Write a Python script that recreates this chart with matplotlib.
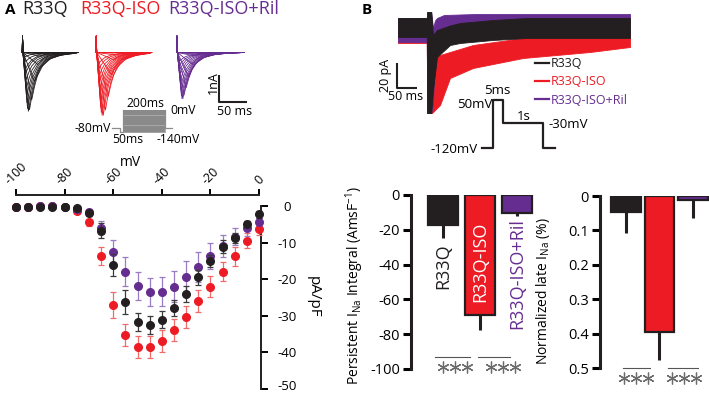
import numpy as np
import matplotlib
matplotlib.use("Agg")
import matplotlib.pyplot as plt
from matplotlib.lines import Line2D
from matplotlib.transforms import ScaledTranslation

plt.rcParams["font.family"] = ["Open Sans", "DejaVu Sans"]
plt.rcParams["axes.unicode_minus"] = False
plt.rcParams["mathtext.fontset"] = "custom"
plt.rcParams["mathtext.rm"] = "Open Sans"
plt.rcParams["mathtext.it"] = "Open Sans:italic"

W, H = 709, 394

BLACK = "#231f20"
RED = "#ed1c24"
PURPLE = "#662d91"
GROUPS = ["R33Q", "R33Q-ISO", "R33Q-ISO+Ril"]
COLORS = [BLACK, RED, PURPLE]

# ── Datos I-V (pA/pF, media y SEM) ─────────────────────────────────────────
VOLTS = list(range(-100, 5, 5))
IV_R33Q = [-0.2, -0.4, -0.2, -0.2, -0.2, -0.5, -2.0, -6.7, -16.1, -26.2, -31.7,
           -32.6, -31.1, -27.9, -24.0, -19.5, -15.0, -11.1, -8.8, -5.0, -2.3]
IV_R33Q_SEM = [0.3, 0.3, 0.3, 0.3, 0.3, 0.4, 0.8, 2.1, 3.0, 3.2, 2.5,
               2.5, 2.3, 2.1, 2.2, 2.0, 1.7, 1.8, 1.4, 0.8, 0.9]
IV_ISO = [-0.2, -0.2, 0.0, 0.0, -0.2, -1.4, -4.5, -13.6, -27.0, -35.3, -38.6,
          -38.6, -36.8, -33.8, -30.2, -25.9, -22.0, -17.9, -13.8, -9.5, -6.4]
IV_ISO_SEM = [0.3, 0.3, 0.3, 0.3, 0.3, 0.5, 1.0, 2.5, 3.5, 3.0, 3.0,
              3.0, 3.0, 3.0, 3.0, 3.0, 2.8, 2.6, 2.5, 2.1, 1.4]
IV_RIL = [-0.2, -0.2, -0.1, -0.1, -0.2, -0.8, -1.7, -5.9, -12.5, -17.9, -21.8,
          -23.5, -23.4, -22.0, -19.3, -16.7, -13.6, -10.9, -8.4, -6.1, -4.3]
IV_RIL_SEM = [0.3, 0.3, 0.3, 0.3, 0.3, 0.4, 0.8, 1.8, 3.2, 3.9, 3.8,
              3.9, 3.9, 4.2, 4.2, 4.1, 3.5, 3.0, 2.3, 2.0, 1.0]

# ── Trazos de corriente (panel A) ──────────────────────────────────────────
CELL_NF = [0.066, 0.0596, 0.072]          # escala pA/pF -> nA de cada celda
TIME_TO_PEAK = [30, 30, 30, 30, 30, 32, 32, 28, 22, 17, 13,
                11, 9.5, 8.5, 8, 7.5, 7, 6.5, 6, 6, 5.5]
SPIKE_T = [0.4, 1.2]
SPIKE_NA = 0.6
DECAY_T = [5, 10, 20, 35, 55, 80]
DECAY_FRAC = [0.72, 0.5, 0.27, 0.12, 0.05, 0.015]
SWEEP_MS = [100, 100, 121]

# ── Corriente persistente (panel B): envolventes leídas, pA ────────────────
PB_T_R33Q = [-75, -3, -2, 8, 12.5, 22.5, 55, 80, 162, 247, 505]
PB_UP_R33Q = [8, 8, 12.8, 12.8, -5.6, -1.6, 2, 4, 6.4, 8, 8]
PB_LO_R33Q = [-7.2, -7.2, -68, -68, -49.6, -23.2, -13.6, -12, -9.6, -8, -8]
PB_T_ISO = [-75, -3, -2, 8, 10, 30, 55, 112.5, 237.5, 405, 505]
PB_UP_ISO = [0, 0, 8, 8, -25.6, -21.6, -19.2, -13.6, -8, -4, -1.6]
PB_LO_ISO = [-12, -12, -68, -68, -68, -61.6, -40, -32, -24, -19.2, -15.2]
PB_T_RIL = [-75, -3, -2, 8, 12.5, 17.5, 22.5, 40, 120, 505]
PB_UP_RIL = [8, 8, 12.8, 12.8, 0, 6, 8, 10.4, 11.2, 11.2]
PB_LO_RIL = [-11.2, -11.2, -68, -68, -60, -20, -5.6, -4, -3.2, -3.2]

# ── Barras ─────────────────────────────────────────────────────────────────
PERSIST = [-17.2, -69.0, -10.5]
PERSIST_ERR = [7.6, 8.6, 1.4]
LATE = [0.047, 0.395, 0.012]
LATE_ERR = [0.061, 0.082, 0.052]

# ── Protocolos ─────────────────────────────────────────────────────────────
PROTO_A_HOLD = -80
PROTO_A_PRE = -100
PROTO_A_DUR = [40, 16, 200, 32]
PROTO_B_LEVELS = [-120, 50, -30, -120]
PROTO_B_DUR = [11, 10, 40, 12]

fig = plt.figure(figsize=(W / 100, H / 100), dpi=100)


def px_axes(x0, y0, x1, y1):
    return fig.add_axes([x0 / W, 1 - y1 / H, (x1 - x0) / W, (y1 - y0) / H])


# ── Panel A: encabezado ────────────────────────────────────────────────────
fig.text(5 / W, 1 - 10 / H, "A", fontsize=11, fontweight="bold", va="center")
for name, col, xp in zip(GROUPS, COLORS, [22, 80, 168]):
    fig.text(xp / W, 1 - 9 / H, name, color=col, fontsize=13, va="center")

# ── Panel A: familias de trazos ────────────────────────────────────────────
axt = px_axes(15, 28, 255, 125)
axt.set_xlim(-13.1, 418.5)
axt.set_ylim(-2.656, 0.897)
axt.axis("off")
for iv, cm, col, off, dur in zip([IV_R33Q, IV_ISO, IV_RIL], CELL_NF, COLORS,
                                 [0, 132.6, 277.7], SWEEP_MS):
    for amp, ttp in zip(iv, TIME_TO_PEAK):
        peak = amp * cm
        tt = [0, SPIKE_T[0], SPIKE_T[1], ttp]
        yy = [0, SPIKE_NA, 0, peak]
        for dt, fr in zip(DECAY_T, DECAY_FRAC):
            if ttp + dt < dur:
                tt.append(ttp + dt)
                yy.append(peak * fr)
        tt.append(dur)
        yy.append(0)
        axt.plot(np.array(tt) + off, yy, color=col, lw=0.6)
axt.plot([353.8, 353.8, 403.8], [-0.813, -1.813, -1.813], color=BLACK, lw=1.5,
         solid_capstyle="butt")
axt.text(343, -1.12, "1nA", rotation=90, ha="center", va="center", fontsize=9)
axt.text(381, -2.15, "50 ms", ha="center", va="center", fontsize=9)

# ── Panel A: protocolo ─────────────────────────────────────────────────────
axp = px_axes(111.7, 110, 171.7, 132.3)
axp.set_xlim(0, sum(PROTO_A_DUR))
axp.set_ylim(-100, 0)
axp.axis("off")
t1, t2, t3, t4 = np.cumsum(PROTO_A_DUR)
axp.fill_between([t2, t3], -100, 0, color="#a8a8a8", lw=0)
for v in VOLTS:
    axp.plot([t2, t3], [v, v], color="#7d7d7d", lw=0.5, clip_on=False)
axp.plot([0, t1, t1, t2, t2], [PROTO_A_HOLD, PROTO_A_HOLD, PROTO_A_PRE, PROTO_A_PRE, 0],
         color="#8c8c8c", lw=0.9, clip_on=False)
axp.plot([t3, t3, t4], [0, PROTO_A_HOLD, PROTO_A_HOLD], color="#8c8c8c", lw=0.9,
         clip_on=False)
fig.text(111 / W, 1 - 128 / H, "-80mV", ha="right", va="center", fontsize=8.7)
fig.text(112 / W, 1 - 139.5 / H, "50ms", ha="left", va="center", fontsize=8.7)
fig.text(145 / W, 1 - 103.5 / H, "200ms", ha="center", va="center", fontsize=8.7)
fig.text(170 / W, 1 - 110.5 / H, "0mV", ha="left", va="center", fontsize=8.7)
fig.text(178 / W, 1 - 139.5 / H, "-140mV", ha="center", va="center", fontsize=8.7)

# ── Panel A: curva I-V ─────────────────────────────────────────────────────
ax = px_axes(13.6, 195, 260.5, 389)
ax.set_xlim(-101, 0.6)
ax.set_ylim(-50, 3)
for mean, sem, col, ecol, z in [(IV_ISO, IV_ISO_SEM, RED, "#f26b6b", 3),
                                (IV_RIL, IV_RIL_SEM, PURPLE, "#9a7cc4", 4),
                                (IV_R33Q, IV_R33Q_SEM, BLACK, "#3a3a3a", 5)]:
    cont = ax.errorbar(VOLTS, mean, yerr=sem, fmt="o", color=col, ecolor=ecol,
                       elinewidth=0.9, capsize=2.5, capthick=0.9, ms=5.5,
                       mec=col, zorder=z)
    for art in cont.get_children():
        art.set_clip_on(False)
for s in ["left", "bottom"]:
    ax.spines[s].set_visible(False)
ax.spines["top"].set_bounds(-100, 0)
ax.spines["right"].set_bounds(-50, 0)
for s in ["top", "right"]:
    ax.spines[s].set_linewidth(1.4)
    ax.spines[s].set_color(BLACK)
ax.xaxis.tick_top()
ax.yaxis.tick_right()
ax.set_xticks(range(-100, 1, 20), [str(v) for v in range(-100, 1, 20)],
              rotation=45, fontsize=9)
ax.set_yticks(range(-50, 1, 10), [str(v) for v in range(-50, 1, 10)], fontsize=9.5)
ax.tick_params(axis="x", length=4.5, width=1.4, pad=1.5)
ax.tick_params(axis="y", length=5, width=1.4, pad=14)
ylabs = ax.get_yticklabels()
for lab in ylabs:
    lab.set_ha("center")
# el "-50" queda pegado al borde inferior: subirlo un poco
ylabs[0].set_transform(ylabs[0].get_transform()
                       + ScaledTranslation(0, 0.04, fig.dpi_scale_trans))
ax.text(0.475, 1.17, "mV", transform=ax.transAxes, ha="center", va="center",
        fontsize=10)
ax.text(1.213, 0.474, "pA/pF", transform=ax.transAxes, rotation=-90,
        ha="center", va="center", fontsize=11)

# ── Panel B: encabezado y trazos ───────────────────────────────────────────
fig.text(362 / W, 1 - 10 / H, "B", fontsize=11, fontweight="bold", va="center")
axb = px_axes(390, 5, 635, 120)
axb.set_xlim(-95, 517.5)
axb.set_ylim(-73.6, 18.4)
axb.axis("off")
for t, up, lo, col in [(PB_T_ISO, PB_UP_ISO, PB_LO_ISO, RED),
                       (PB_T_RIL, PB_UP_RIL, PB_LO_RIL, PURPLE),
                       (PB_T_R33Q, PB_UP_R33Q, PB_LO_R33Q, BLACK)]:
    axb.fill_between(t, lo, up, color=col, lw=0.6, edgecolor=col)
axb.plot([-77.5, -77.5, -27.5], [-28, -48, -48], color=BLACK, lw=1.5,
         solid_capstyle="butt")
axb.text(-107.5, -38, "20 pA", rotation=90, ha="center", va="center",
         fontsize=9, clip_on=False)
axb.text(-55, -55.2, "50 ms", ha="center", va="center", fontsize=9,
         clip_on=False)
handles = [Line2D([], [], color=c, lw=1.6) for c in COLORS]
fig.legend(handles, GROUPS, loc="upper left", bbox_to_anchor=(535 / W, 1 - 57 / H),
           frameon=False, fontsize=9, handlelength=1.1, handletextpad=0.15,
           labelspacing=0.42, borderaxespad=0, borderpad=0,
           labelcolor=COLORS)

# ── Panel B: protocolo ─────────────────────────────────────────────────────
axq = px_axes(482, 100, 555, 148)
axq.set_xlim(0, sum(PROTO_B_DUR))
axq.set_ylim(-120, 50)
axq.axis("off")
edges = np.concatenate([[0], np.cumsum(PROTO_B_DUR)])
qt, qv = [], []
for i, lev in enumerate(PROTO_B_LEVELS):
    qt += [edges[i], edges[i + 1]]
    qv += [lev, lev]
axq.plot(qt, qv, color=BLACK, lw=1.6, clip_on=False)
fig.text(497 / W, 1 - 90 / H, "5ms", ha="center", va="center", fontsize=9.5)
fig.text(492 / W, 1 - 104 / H, "50mV", ha="right", va="center", fontsize=9.5)
fig.text(524 / W, 1 - 117 / H, "1s", ha="center", va="center", fontsize=9.5)
fig.text(548 / W, 1 - 124 / H, "-30mV", ha="left", va="center", fontsize=9.5)
fig.text(478 / W, 1 - 149 / H, "-120mV", ha="right", va="center", fontsize=9.5)


# ── Panel B: barras ────────────────────────────────────────────────────────
def bar_axes(ax, vals, errs, width, ylo, yhi, ticks, ticklabels):
    x = np.arange(len(vals))
    ax.bar(x, vals, width=width, color=COLORS, edgecolor=BLACK, linewidth=1.6,
           zorder=3)
    ax.plot(np.repeat(x, 2).reshape(-1, 2).T,
            np.array([vals, [v + e for v, e in zip(vals, errs)]]),
            color=BLACK, lw=2.2, zorder=2, solid_capstyle="butt", clip_on=False)
    ax.set_ylim(ylo, yhi)
    for s in ["top", "right", "bottom"]:
        ax.spines[s].set_visible(False)
    ax.spines["left"].set_linewidth(2.2)
    ax.spines["left"].set_color(BLACK)
    ax.set_xticks([])
    ax.set_yticks(ticks, ticklabels, fontsize=10.5)
    ax.tick_params(axis="y", length=6, width=2.2, pad=2)


def stars(ax, xc, y, step):
    ax.plot([xc - step, xc, xc + step], [y] * 3, ls="none", marker=(6, 2, 0),
            ms=8.5, mew=0.9, color="#6b6b6b", clip_on=False)


ax1 = px_axes(411, 195, 540, 369)
ax1.set_xlim(-0.865, 2.62)
bar_axes(ax1, PERSIST, [-e for e in PERSIST_ERR], 0.81, -100, 0,
         range(-100, 1, 20), [str(v) for v in range(-100, 1, 20)])
ax1.text(0, -27.6, GROUPS[0], rotation=90, ha="center", va="top", fontsize=13,
         color=BLACK)
ax1.text(1, -15.5, GROUPS[1], rotation=90, ha="center", va="top", fontsize=13,
         color="white", zorder=4)
ax1.text(2, -13.2, GROUPS[2], rotation=90, ha="center", va="top", fontsize=13,
         color=PURPLE)
for (xa, xb), xc in zip([(-0.22, 0.73), (0.95, 1.81)], [0.32, 1.62]):
    ax1.plot([xa, xb], [-93, -93], color="#555555", lw=0.8, clip_on=False)
    stars(ax1, xc, -99, 0.32)
ax1.set_ylabel(r"Persistent I$_{\mathrm{Na}}$ Integral (AmsF$^{\mathrm{-1}}$)",
               fontsize=10)
ax1.yaxis.set_label_coords(-0.349, 0.48)

ax2 = px_axes(600, 196, 709, 368)
ax2.set_xlim(-0.776, 2.478)
bar_axes(ax2, LATE, LATE_ERR, 0.87, 0.5, 0,
         [0, 0.1, 0.2, 0.3, 0.4, 0.5], ["0", "0.1", "0.2", "0.3", "0.4", "0.5"])
for (xa, xb), xc in zip([(-0.09, 0.72), (1.25, 2.15)], [0.3, 1.73]):
    ax2.plot([xa, xb], [0.5, 0.5], color="#555555", lw=0.8, clip_on=False)
    stars(ax2, xc, 0.529, 0.36)
ax2.set_ylabel(r"Normalized late I$_{\mathrm{Na}}$ (%)", fontsize=10)
ax2.yaxis.set_label_coords(-0.44, 0.45)

fig.savefig("out.png", dpi=100)
